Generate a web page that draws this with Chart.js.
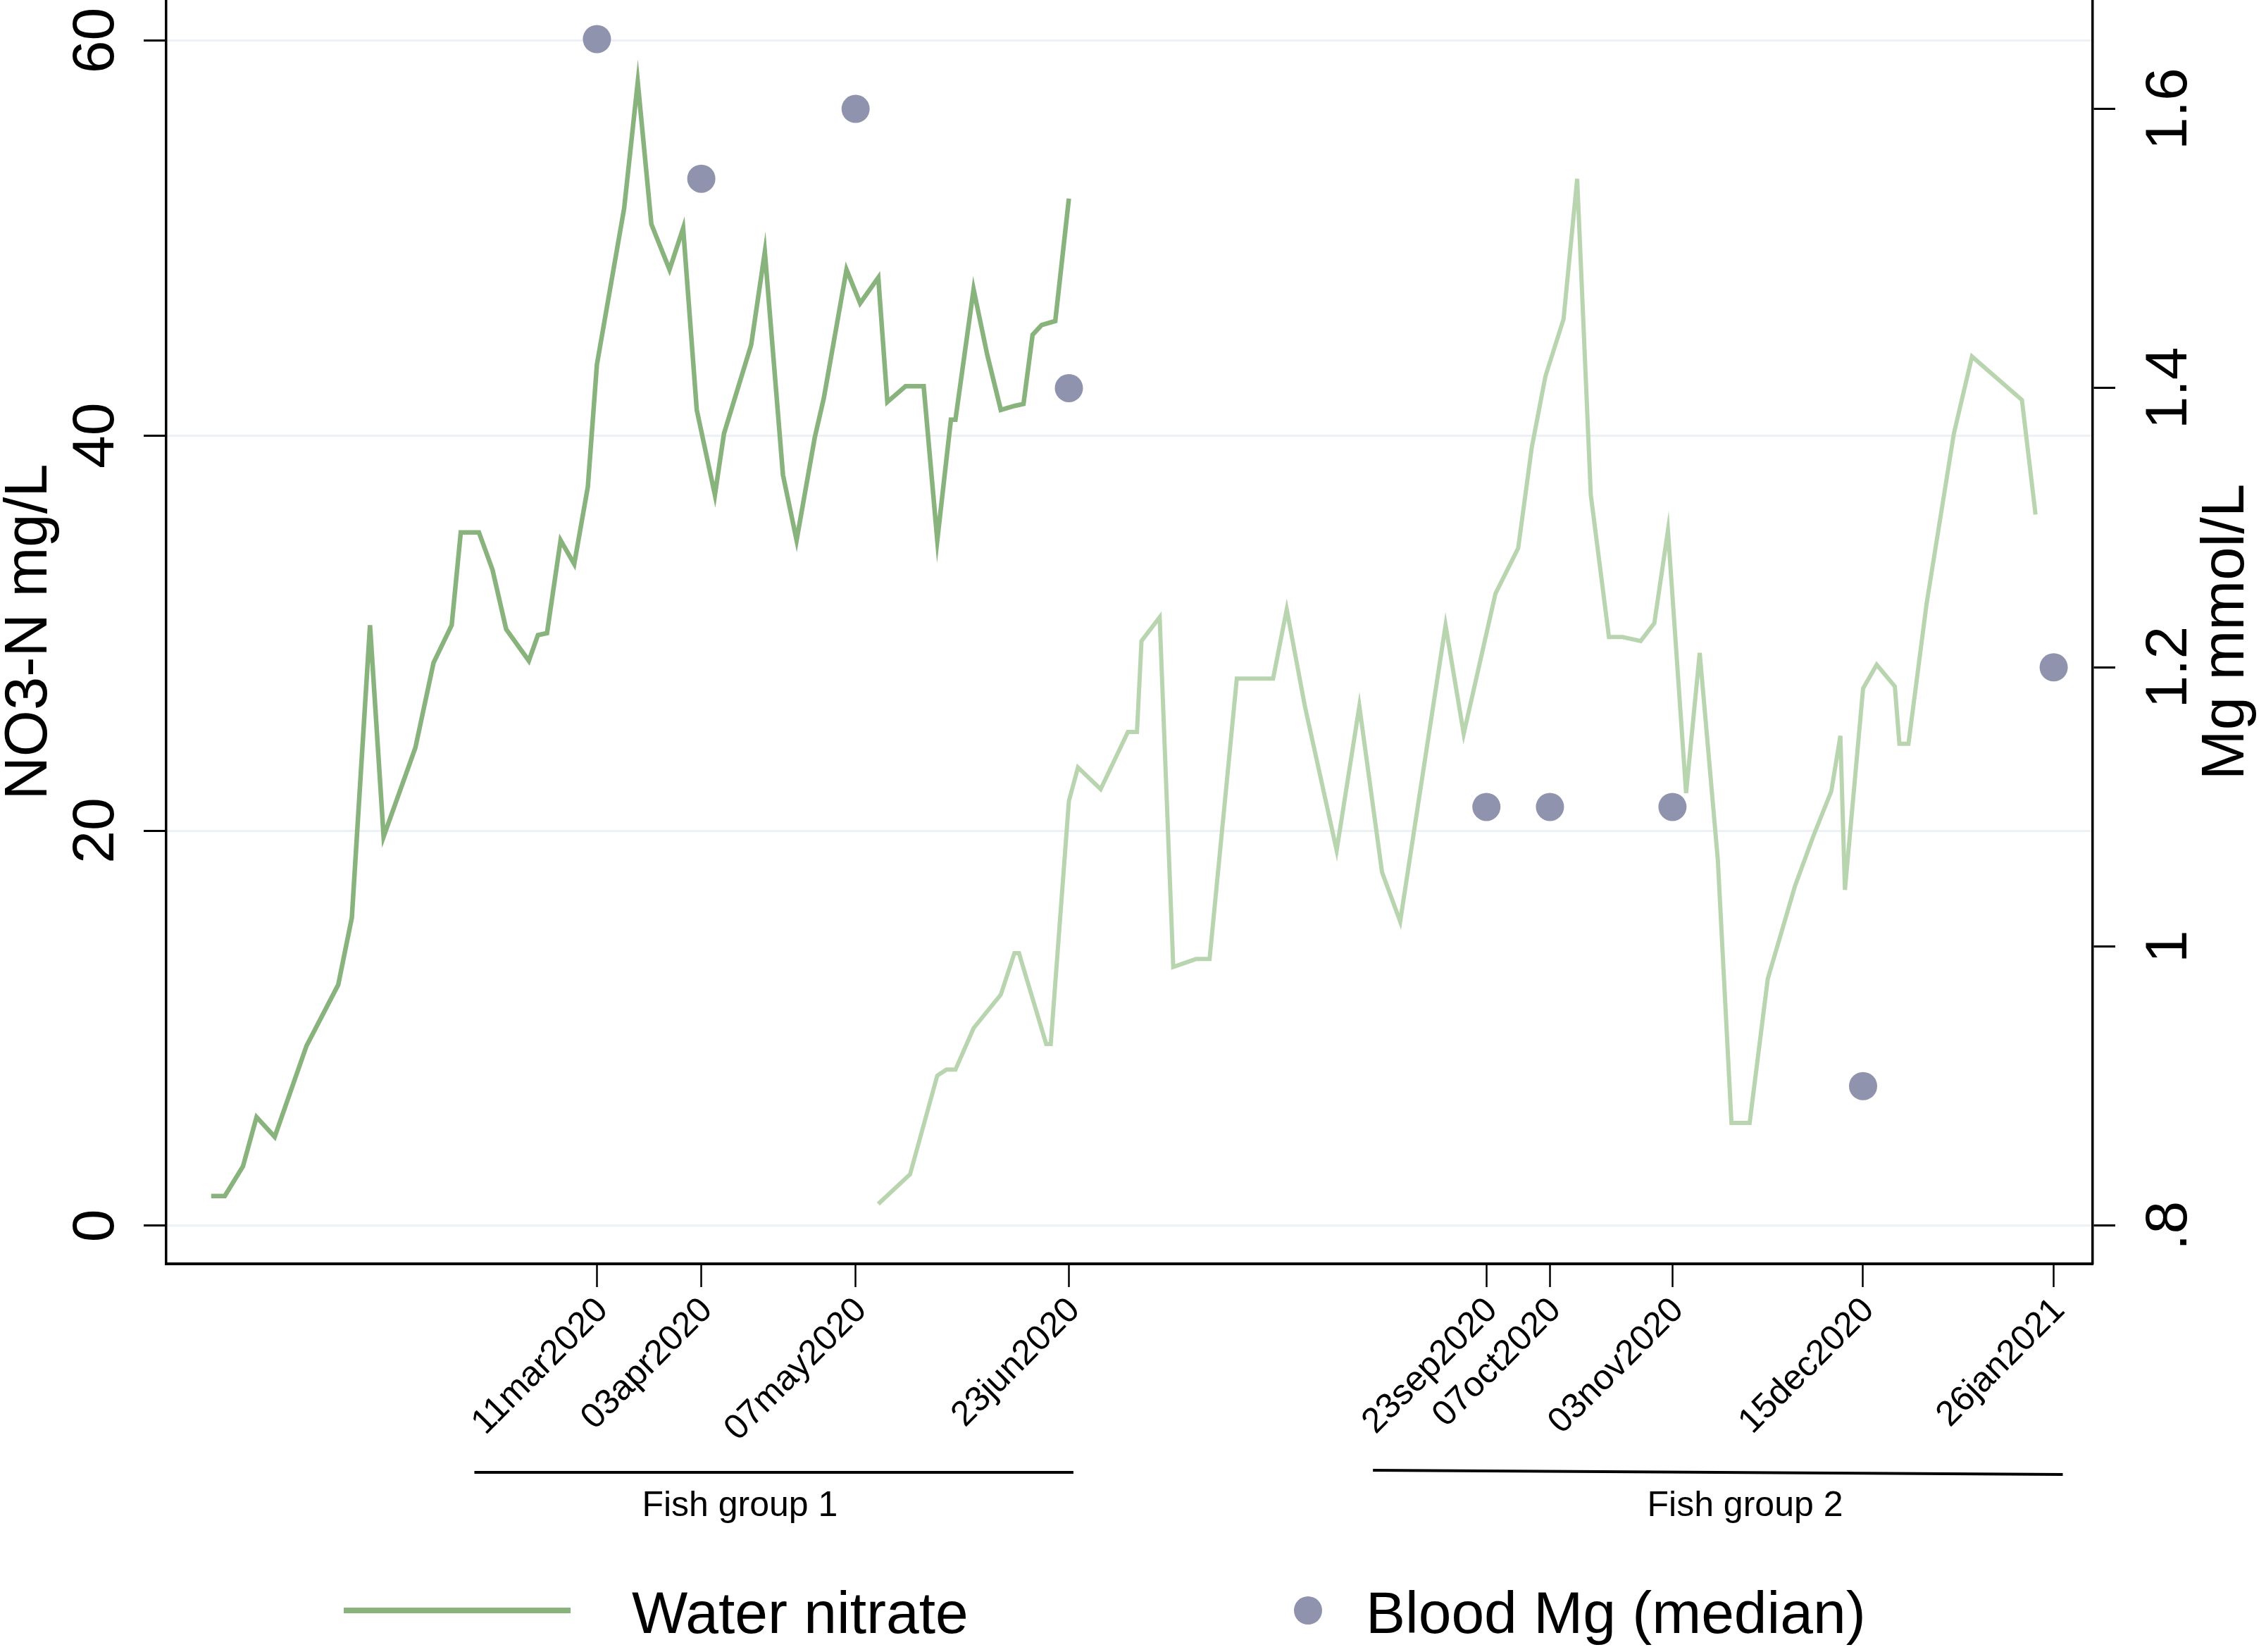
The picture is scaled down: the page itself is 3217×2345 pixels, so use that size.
<!DOCTYPE html>
<html>
<head>
<meta charset="utf-8">
<title>Water nitrate and blood Mg</title>
<script src="https://cdn.jsdelivr.net/npm/chart.js@4.4.1/dist/chart.umd.min.js"></script>
<style>
  html, body { margin: 0; padding: 0; background: #fff; }
  canvas { display: block; }
</style>
</head>
<body>
<canvas id="myChart" width="3217" height="2345"></canvas>
<script>
// Days are counted from 1 Jan 2020 (day 0)

// Water nitrate, fish group 1 (NO3-N mg/L)
const group1Days = [-15, -12, -8, -5, -1, 6, 13, 16, 20, 23, 30, 34, 38, 40, 44, 47, 50, 55, 57, 59,
    62, 65, 68, 70, 76, 79, 82, 86, 89, 92, 96, 98, 104, 107, 111, 114, 118, 120, 125, 128,
    132, 134, 138, 142, 145, 148, 149, 153, 156, 159, 162, 164, 166, 168, 171, 174];
const group1Nitrate = [1.5, 1.5, 3.0, 5.5, 4.5, 9.1, 12.2, 15.6, 30.4, 19.7, 24.2, 28.5, 30.4, 35.1, 35.1, 33.2, 30.2, 28.6, 29.9, 30.0,
    34.7, 33.5, 37.4, 43.6, 51.5, 57.9, 50.7, 48.4, 50.5, 41.3, 37.0, 40.1, 44.6, 49.3, 38.0, 34.7, 39.9, 41.9, 48.4, 46.7,
    48.0, 41.7, 42.5, 42.5, 34.7, 40.8, 40.8, 47.4, 44.1, 41.3, 41.5, 41.6, 45.1, 45.6, 45.8, 52.0];

// Water nitrate, fish group 2
const group2Days = [132, 139, 145, 147, 149, 153, 159, 162, 163, 169, 170, 174, 176, 181, 187, 189, 190, 194, 197, 202,
    205, 211, 219, 222, 226, 233, 238, 243, 247, 257, 261, 268, 273, 276, 279, 283, 286, 289, 293, 296,
    300, 303, 306, 310, 313, 317, 320, 324, 328, 334, 338, 342, 344, 345, 349, 352, 356, 357, 359, 363,
    369, 373, 384, 387];
const group2Nitrate = [1.1, 2.6, 7.6, 7.9, 7.9, 10.0, 11.7, 13.8, 13.8, 9.2, 9.2, 21.5, 23.2, 22.1, 25.0, 25.0, 29.6, 30.8, 13.1, 13.5,
    13.5, 27.7, 27.7, 31.2, 26.3, 19.0, 26.3, 17.9, 15.4, 30.4, 24.9, 32.0, 34.3, 39.4, 43.0, 45.9, 53.0, 37.0, 29.8, 29.8,
    29.6, 30.5, 35.2, 21.9, 29.0, 18.5, 5.2, 5.2, 12.5, 17.2, 19.7, 22.0, 24.8, 17.0, 27.2, 28.4, 27.3, 24.4, 24.4, 31.5,
    40.1, 44.0, 41.8, 36.0];

// Blood sampling dates and median blood Mg (mmol/L)
const sampleDays = [70, 93, 127, 174, 266, 280, 307, 349, 391];
const sampleLabels = ['11mar2020', '03apr2020', '07may2020', '23jun2020', '23sep2020',
    '07oct2020', '03nov2020', '15dec2020', '26jan2021'];
const bloodMg = [1.65, 1.55, 1.60, 1.40, 1.10, 1.10, 1.10, 0.90, 1.20];

// axis ticks
const leftTicks = [0, 20, 40, 60];
const rightTicks = [0.8, 1.0, 1.2, 1.4, 1.6];
const rightTickLabels = ['.8', '1', '1.2', '1.4', '1.6'];

// fish group brackets under the axis
const groupNames = ['Fish group 1', 'Fish group 2'];
const groupStart = [43, 241];
const groupEnd = [175, 393];
const groupLabelDay = [101.5, 323];

const font = '"Liberation Sans", Arial, sans-serif';
const darkGreen = '#89b37c';
const lightGreen = '#b9d5b0';
const dotColor = '#8f93ad';

function rotText(ctx, text, x, y, angle, align, baseline) {
    ctx.save();
    ctx.translate(x, y);
    ctx.rotate(angle);
    ctx.textAlign = align;
    ctx.textBaseline = baseline;
    ctx.fillText(text, 0, 0);
    ctx.restore();
}

// draws the rotated axis texts, the group brackets and the legend
const extras = {
    id: 'extras',
    afterDraw(chart) {
        const ctx = chart.ctx;
        const x = chart.scales.x, y = chart.scales.y, y1 = chart.scales.y1;
        ctx.save();
        ctx.fillStyle = '#000';

        ctx.font = '84px ' + font;
        leftTicks.forEach(v => rotText(ctx, String(v), 161, y.getPixelForValue(v), -Math.PI / 2, 'center', 'alphabetic'));
        rightTicks.forEach((v, i) => rotText(ctx, rightTickLabels[i], 3104, y1.getPixelForValue(v), -Math.PI / 2, 'center', 'alphabetic'));

        ctx.font = '85px ' + font;
        rotText(ctx, 'NO3-N mg/L', 66, 897, -Math.PI / 2, 'center', 'alphabetic');
        rotText(ctx, 'Mg mmol/L', 3185, 897, -Math.PI / 2, 'center', 'alphabetic');

        ctx.font = '50px ' + font;
        sampleDays.forEach((d, i) => rotText(ctx, sampleLabels[i], x.getPixelForValue(d) + 8, 1852, -Math.PI / 4, 'right', 'middle'));

        // group brackets
        ctx.strokeStyle = '#000';
        ctx.lineWidth = 4;
        const slant = [[0, 0], [-3, 3]];
        groupNames.forEach((name, i) => {
            ctx.beginPath();
            ctx.moveTo(x.getPixelForValue(groupStart[i]), 2090 + slant[i][0]);
            ctx.lineTo(x.getPixelForValue(groupEnd[i]), 2090 + slant[i][1]);
            ctx.stroke();
            ctx.textAlign = 'center';
            ctx.textBaseline = 'alphabetic';
            ctx.fillText(name, x.getPixelForValue(groupLabelDay[i]), 2152);
        });

        // legend
        ctx.strokeStyle = darkGreen;
        ctx.lineWidth = 8;
        ctx.beginPath();
        ctx.moveTo(488, 2286);
        ctx.lineTo(810, 2286);
        ctx.stroke();
        ctx.fillStyle = dotColor;
        ctx.beginPath();
        ctx.arc(1857, 2286, 20, 0, Math.PI * 2);
        ctx.fill();
        ctx.fillStyle = '#000';
        ctx.font = '84px ' + font;
        ctx.textAlign = 'left';
        ctx.fillText('Water nitrate', 897, 2318);
        ctx.fillText('Blood Mg (median)', 1939, 2318);
        ctx.restore();
    }
};

const ctx = document.getElementById('myChart').getContext('2d');
const myChart = new Chart(ctx, {
    type: 'line',
    data: {
        datasets: [{
            type: 'scatter',
            label: 'Blood Mg (median)',
            data: sampleDays.map((d, i) => ({ x: d, y: bloodMg[i] })),
            yAxisID: 'y1',
            backgroundColor: dotColor,
            borderWidth: 0,
            pointRadius: 20,
            order: 0
        }, {
            label: 'Water nitrate',
            data: group1Days.map((d, i) => ({ x: d, y: group1Nitrate[i] })),
            yAxisID: 'y',
            borderColor: darkGreen,
            borderWidth: 6.5,
            pointRadius: 0,
            tension: 0,
            order: 1
        }, {
            label: 'Water nitrate (group 2)',
            data: group2Days.map((d, i) => ({ x: d, y: group2Nitrate[i] })),
            yAxisID: 'y',
            borderColor: lightGreen,
            borderWidth: 6,
            pointRadius: 0,
            tension: 0,
            order: 2
        }]
    },
    options: {
        responsive: false,
        animation: false,
        devicePixelRatio: 1,
        layout: { autoPadding: false, padding: { top: 0, left: 0, right: 0, bottom: 0 } },
        plugins: {
            legend: { display: false },
            tooltip: { enabled: false }
        },
        scales: {
            x: {
                type: 'linear',
                min: -24.9,
                max: 399.6,
                afterBuildTicks: s => { s.ticks = sampleDays.map(v => ({ value: v })); },
                afterFit: s => { s.height = 551; },
                ticks: { display: false },
                grid: { drawOnChartArea: false, tickLength: 33, tickColor: '#000', tickWidth: 2.5 },
                border: { color: '#000', width: 4 }
            },
            y: {
                position: 'left',
                min: -1.93,
                max: 62.05,
                afterBuildTicks: s => { s.ticks = leftTicks.map(v => ({ value: v })); },
                afterFit: s => { s.width = 236; },
                ticks: { display: false },
                grid: { color: '#ebf1f6', lineWidth: 3, tickLength: 32, tickColor: '#000', tickWidth: 3 },
                border: { color: '#000', width: 3.5 }
            },
            y1: {
                position: 'right',
                min: 0.7727,
                max: 1.678,
                afterBuildTicks: s => { s.ticks = rightTicks.map(v => ({ value: v })); },
                afterFit: s => { s.width = 246; },
                ticks: { display: false },
                grid: { drawOnChartArea: false, tickLength: 32, tickColor: '#000', tickWidth: 3 },
                border: { color: '#000', width: 3.5 }
            }
        }
    },
    plugins: [extras]
});
</script>
</body>
</html>
